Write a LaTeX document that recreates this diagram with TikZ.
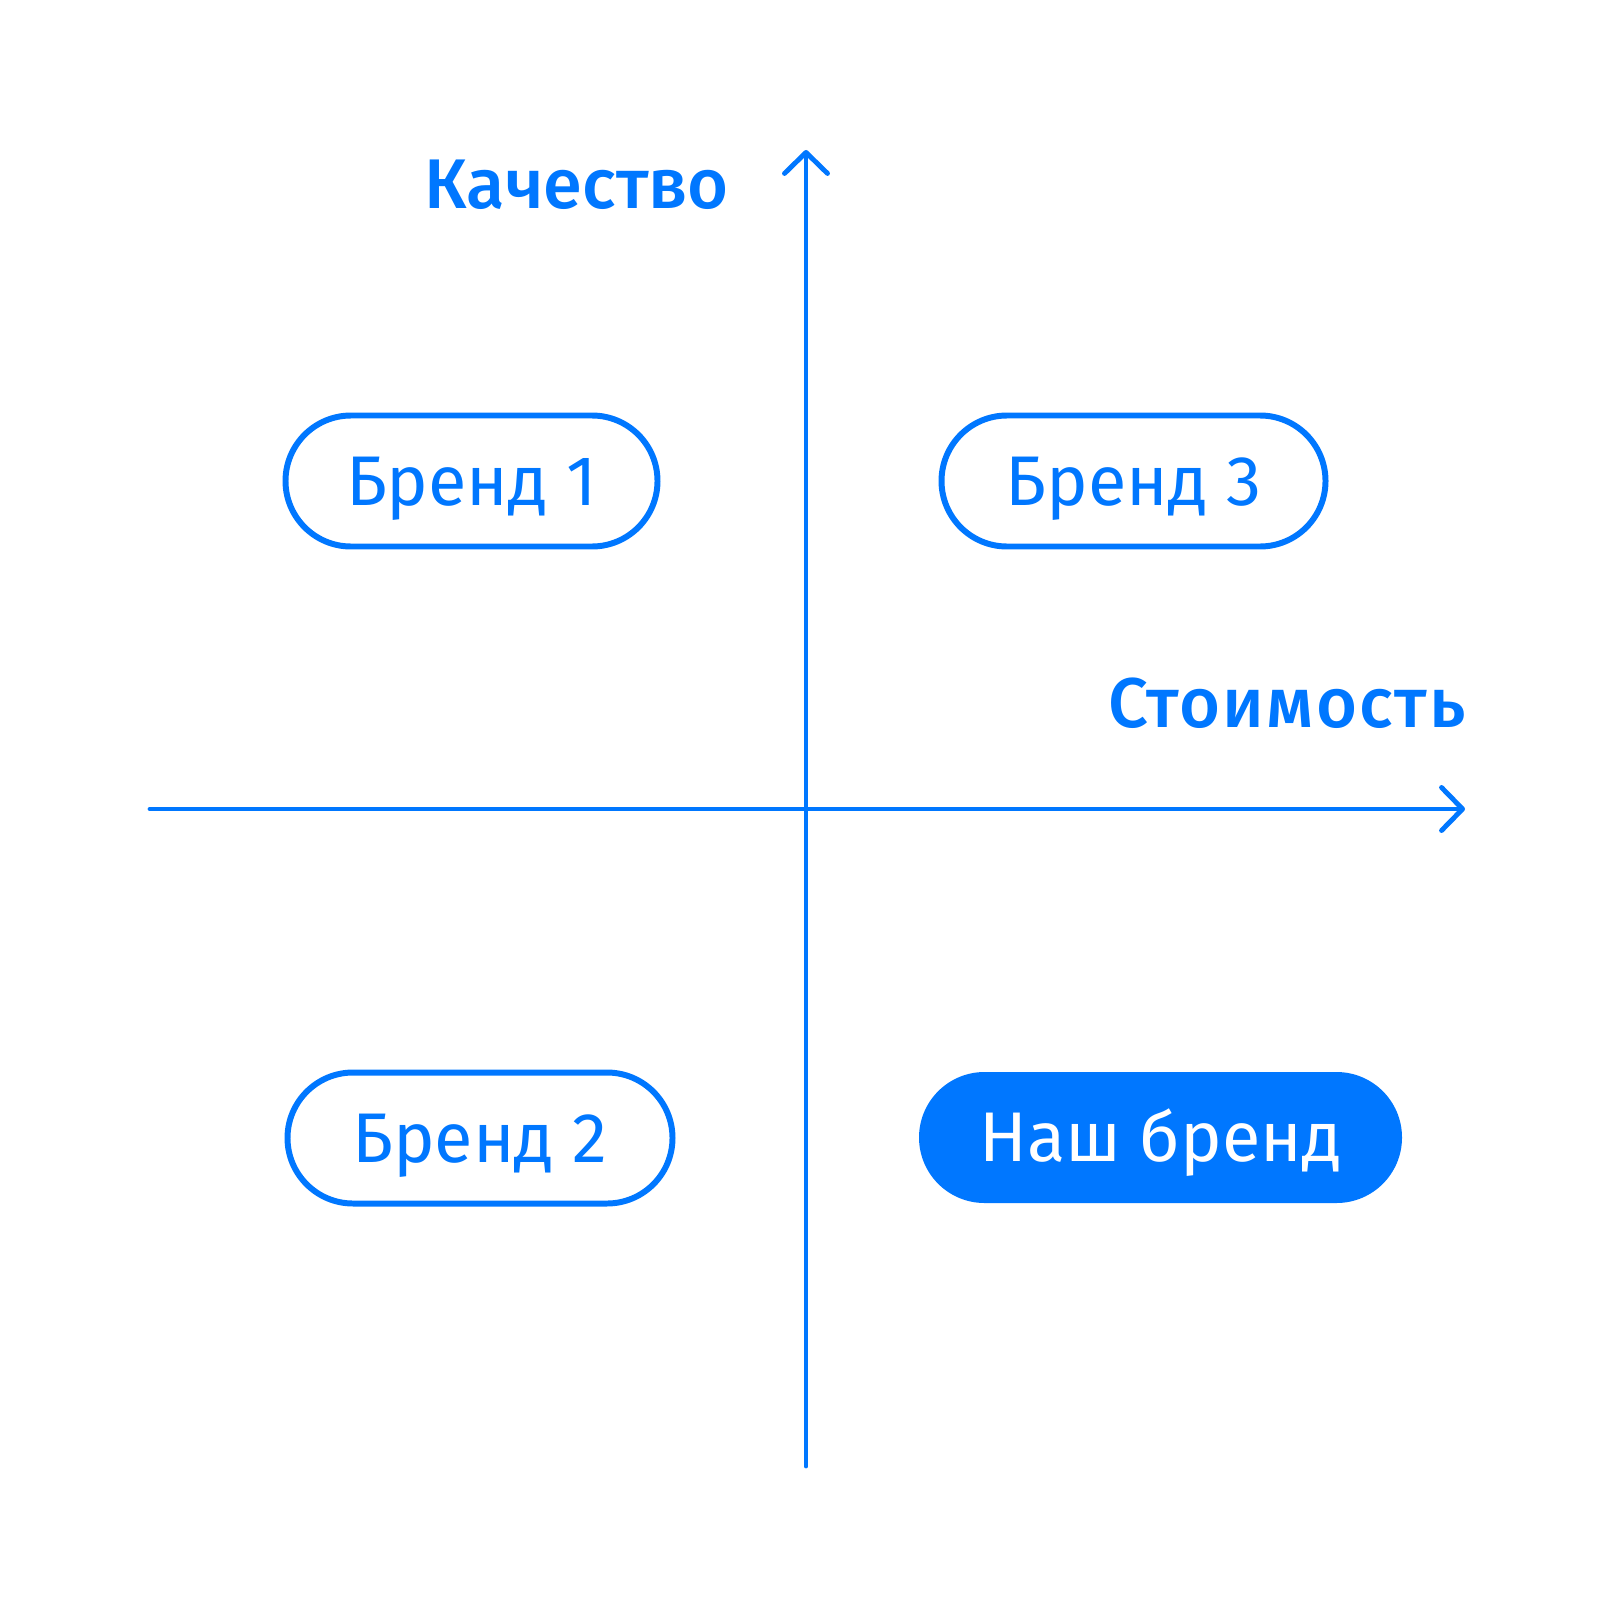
\documentclass[tikz,border=0pt]{standalone}
\usepackage{fontspec}
\setmainfont{Fira Sans}
\newfontfamily\medfont{Fira Sans Medium}
\usepackage{xcolor}
\usepackage{tikz}
\usetikzlibrary{calc}
\usetikzlibrary{arrows.meta}
\definecolor{vkblue}{HTML}{0077FF}

\begin{document}
\begin{tikzpicture}[>={Straight Barb[length=2.1mm,width=4.3mm,round]},
    axis/.style={vkblue, line width=1.4pt, line cap=round},
    pill/.style={draw=vkblue, line width=1.7pt, rounded corners=0.655cm,
      minimum height=1.31cm, text height=0.58cm, text depth=0.1cm,
      text=vkblue, font=\fontsize{20}{24}\selectfont},
    ourpill/.style={fill=vkblue, rounded corners=0.655cm, minimum height=1.31cm,
      text height=0.58cm, text depth=0.1cm,
      text=white, font=\fontsize{20}{24}\selectfont},
    axislabel/.style={text=vkblue, font=\medfont\fontsize{20}{24}\selectfont, anchor=base}]
      \useasboundingbox[fill=white] (0,0) rectangle (16.2,-16.2);

      \coordinate (ybot) at (8.06,-14.66);
      \coordinate (ytop) at (8.06,-1.50);
      \coordinate (xleft) at (1.50,-8.09);
      \coordinate (xright) at (14.65,-8.09);

      \draw[axis,->] (ybot) -- (ytop);
      \draw[axis,->] (xleft) -- (xright);

      \node[axislabel] (quality) at (5.765,-2.09) {Качество};
      \node[axislabel] (cost) at (12.87,-7.27) {\addfontfeature{LetterSpace=3}Стоимость};

      \node[pill, minimum width=3.72cm] (brand1) at (4.715,-4.81) {Бренд 1};
      \node[pill, minimum width=3.84cm] (brand3) at (11.335,-4.81) {Бренд 3};
      \node[pill, minimum width=3.85cm] (brand2) at (4.80,-11.38) {Бренд 2};
      \node[ourpill, minimum width=4.83cm] (ours) at (11.605,-11.375) {Наш бренд};
    \end{tikzpicture}
\end{document}
